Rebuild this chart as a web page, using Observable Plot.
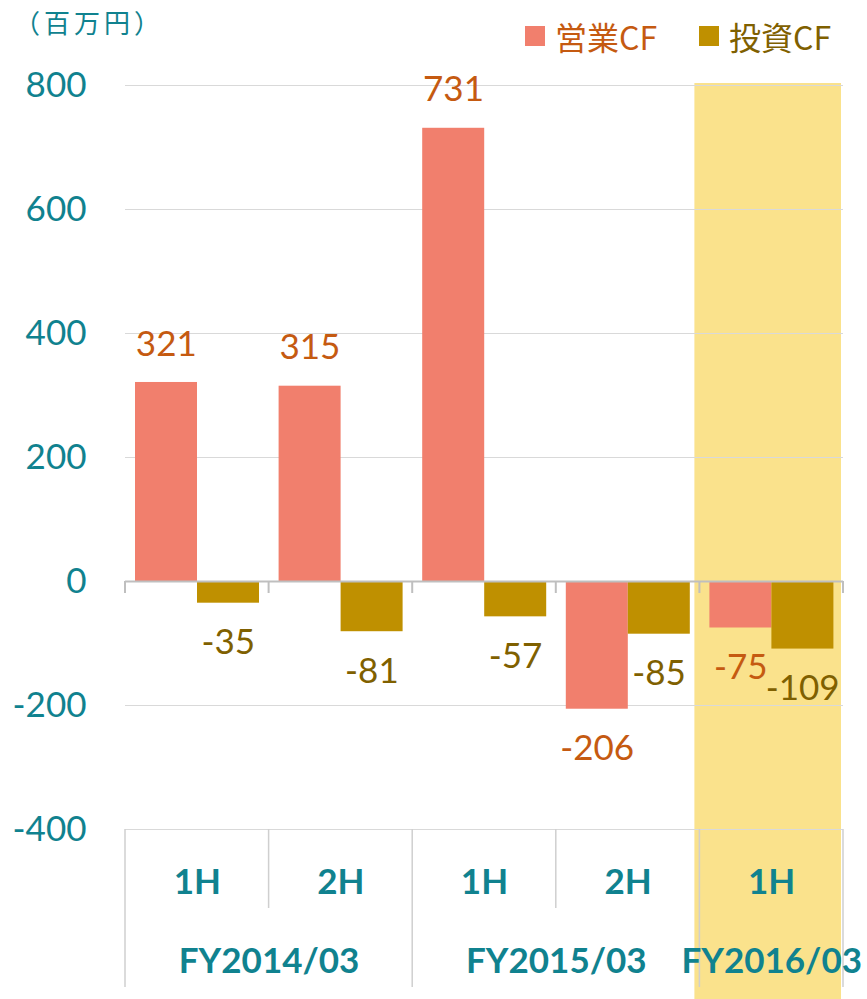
<!DOCTYPE html>
<html><head><meta charset="utf-8">
<script src="https://cdn.jsdelivr.net/npm/d3@7"></script>
<script src="https://cdn.jsdelivr.net/npm/@observablehq/plot@0.6"></script>
<style>
body{margin:0;background:#fff;}
#wrap{position:relative;width:867px;height:999px;overflow:hidden;}
#chart{position:absolute;left:0;top:0;}
#unit{position:absolute;left:14px;top:9px;font:26px/1 "Noto Sans CJK JP",sans-serif;letter-spacing:4px;color:#10828F;z-index:2;}
.lg{position:absolute;top:20px;font:32px/1 "Noto Sans CJK JP",sans-serif;display:flex;align-items:center;z-index:2;}
.sw{width:20px;height:20px;margin-right:10px;}
</style></head><body>
<div id="wrap">
<div id="unit">（百万円）</div>
<div class="lg" id="lg0" style="left:525px"></div>
<div class="lg" id="lg1" style="left:699px"></div>
<div id="chart"></div>
</div>
<script>
const periods = ["FY2014/03 1H","FY2014/03 2H","FY2015/03 1H","FY2015/03 2H","FY2016/03 1H"];
const halfLabels = ["1H","2H","1H","2H","1H"];
const fiscalYears = ["FY2014/03","FY2015/03","FY2016/03"];
const fiscalFirst = [0,2,4];
const fiscalCount = [2,2,1];
const seriesNames = ["営業CF","投資CF"];
const operatingCF = [321,315,731,-206,-75];
const investingCF = [-35,-81,-57,-85,-109];
const yTicks = [-400,-200,0,200,400,600,800];
const highlighted = ["FY2016/03 1H"];

const barColors = ["#F17F6D","#BF9000"];
const labelColors = ["#C55A11","#7F6000"];
const teal = "#10828F";

// legend
[0,1].forEach(i=>{
  const el = document.getElementById("lg"+i);
  el.innerHTML = `<span class="sw" style="background:${barColors[i]}"></span><span style="color:${labelColors[i]}">${seriesNames[i]}</span>`;
});

const opData = periods.map((p,i)=>({period:p, value:operatingCF[i]}));
const invData = periods.map((p,i)=>({period:p, value:investingCF[i]}));
const fyData = fiscalYears.map((f,i)=>({label:f, period:periods[fiscalFirst[i]+fiscalCount[i]-1], n:fiscalCount[i]}));

function tableLines(index, scales, values, dims) {
  const x = scales.x, y = scales.y;
  const bw = typeof x.bandwidth === "function" ? x.bandwidth() : x.bandwidth;
  const top = dims.height - dims.marginBottom;
  const y0 = y(0);
  const g = d3.create("svg:g").attr("stroke","#CFCFCF").attr("stroke-width",1.5).attr("fill","none");
  const edges = periods.map((p,i)=>({x:x(p), full: fiscalFirst.includes(i)}));
  edges.push({x: x(periods[periods.length-1]) + bw, full:true});
  edges.forEach(e=>{
    g.append("line").attr("x1",e.x).attr("x2",e.x).attr("y1",top).attr("y2", e.full ? top+158 : top+79);
    g.append("line").attr("x1",e.x).attr("x2",e.x).attr("y1",y0).attr("y2",y0+12).attr("stroke","#BFBFBF").attr("stroke-width",2);
  });
  return g.node();
}

const font = "Lato, 'Noto Sans CJK JP', sans-serif";
const chart = Plot.plot({
  width: 867,
  height: 999,
  marginTop: 85,
  marginBottom: 170,
  marginLeft: 125,
  marginRight: 24,
  style: {fontFamily: font, background: "transparent"},
  x: {domain: periods, padding: 0, round: false, axis: null},
  y: {domain: [-400, 800], axis: null},
  marks: [
    Plot.cell(highlighted, {x: d=>d, fill: "#FAE28C", insetTop: -2, insetBottom: -170, insetLeft: -5, insetRight: 2}),
    Plot.gridY(yTicks, {stroke: "#D9D9D9", strokeOpacity: 1, strokeWidth: 1}),
    Plot.axisY(yTicks, {tickSize: 0, tickPadding: 39, fontSize: 35, color: teal, tickFormat: d => String(d), label: null}),
    Plot.barY(opData, {x: "period", y: "value", fill: barColors[0], insetLeft: 10, insetRight: 71.6}),
    Plot.barY(invData, {x: "period", y: "value", fill: barColors[1], insetLeft: 72, insetRight: 9.6}),
    Plot.ruleY([0], {stroke: "#BFBFBF", strokeWidth: 2}),
    tableLines,
    Plot.text(opData.filter(d=>d.value>=0), {x: "period", y: "value", text: d=>String(d.value), dx: -31, dy: -38, fontSize: 35, fill: labelColors[0]}),
    Plot.text(opData.filter(d=>d.value<0), {x: "period", y: "value", text: d=>String(d.value), dx: -31, dy: 40, fontSize: 35, fill: labelColors[0]}),
    Plot.text(invData.filter(d=>d.value>=0), {x: "period", y: "value", text: d=>String(d.value), dx: 31, dy: -38, fontSize: 35, fill: labelColors[1]}),
    Plot.text(invData.filter(d=>d.value<0), {x: "period", y: "value", text: d=>String(d.value), dx: 31, dy: 40, fontSize: 35, fill: labelColors[1]}),
    Plot.text(periods, {x: d=>d, text: (d,i)=>halfLabels[i], frameAnchor: "bottom", lineAnchor: "middle", dy: 53, fontSize: 35, fontWeight: "bold", fill: teal}),
    Plot.text(fyData.filter(d=>d.n===2), {x: "period", text: "label", frameAnchor: "bottom", lineAnchor: "middle", dx: -71.8, dy: 132, fontSize: 35, fontWeight: "bold", fill: teal}),
    Plot.text(fyData.filter(d=>d.n===1), {x: "period", text: "label", frameAnchor: "bottom", lineAnchor: "middle", dy: 132, fontSize: 35, fontWeight: "bold", fill: teal})
  ]
});
document.getElementById("chart").appendChild(chart);
</script>
</body></html>
